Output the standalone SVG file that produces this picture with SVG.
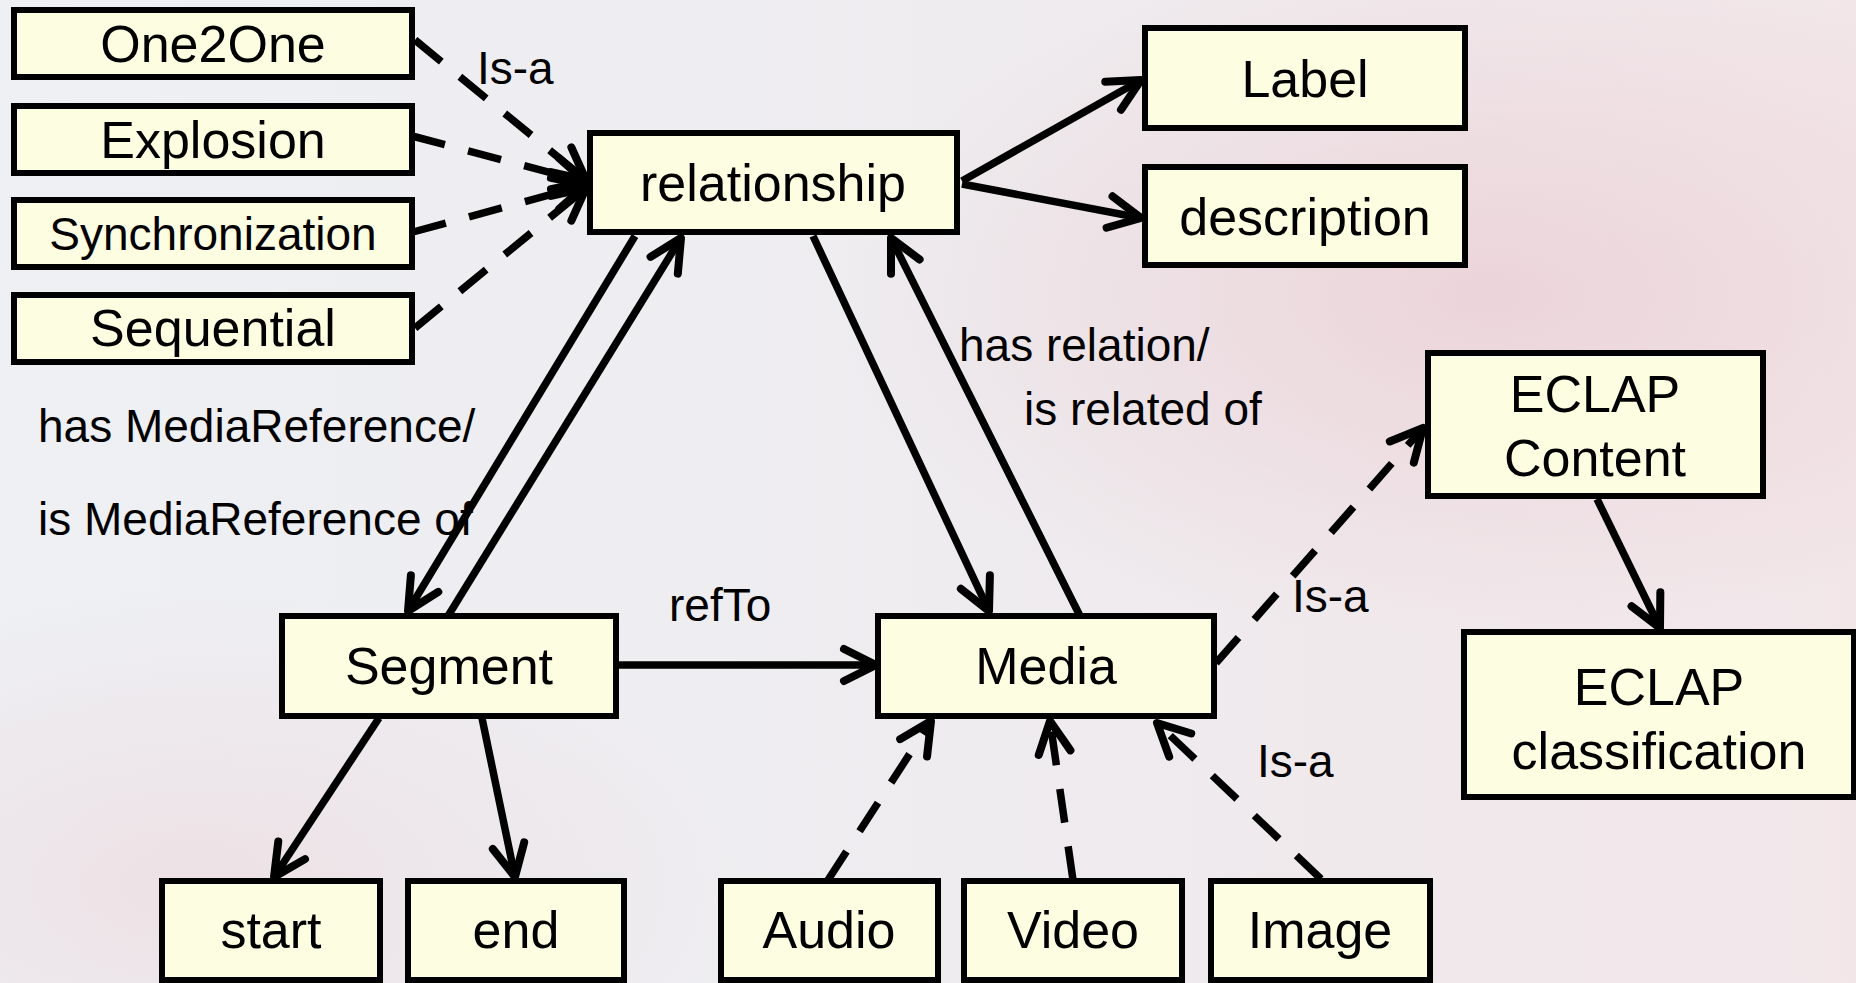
<svg xmlns="http://www.w3.org/2000/svg" width="1856" height="983" viewBox="0 0 1856 983">
<defs>
<linearGradient id="bg" x1="0" y1="0" x2="1" y2="0">
<stop offset="0" stop-color="#eef0f4"/>
<stop offset="0.5" stop-color="#eeecef"/>
<stop offset="1" stop-color="#f2e6e9"/>
</linearGradient>
<radialGradient id="blob1" cx="0.8" cy="0.3" r="0.35">
<stop offset="0" stop-color="#e9ccd2" stop-opacity="0.7"/>
<stop offset="1" stop-color="#e9ccd2" stop-opacity="0"/>
</radialGradient>
<radialGradient id="blob2" cx="0.1" cy="0.9" r="0.3">
<stop offset="0" stop-color="#ecd8dc" stop-opacity="0.6"/>
<stop offset="1" stop-color="#ecd8dc" stop-opacity="0"/>
</radialGradient>
<marker id="arr" markerUnits="userSpaceOnUse" markerWidth="40" markerHeight="40" refX="33" refY="19" orient="auto" overflow="visible">
<path d="M1,3 L33,19 L1,35" fill="none" stroke="#000" stroke-width="8" stroke-linecap="round" stroke-linejoin="round"/>
</marker>
<style>
.box{fill:#fdfde1;stroke:#000;stroke-width:6}
.t{font-family:"Liberation Sans",Arial,sans-serif;font-size:52px;fill:#000;text-anchor:middle}
.lbl{font-family:"Liberation Sans",Arial,sans-serif;font-size:46px;fill:#000}
.c{fill:none;stroke:#000;stroke-width:7.5;marker-end:url(#arr)}
.d{stroke-dasharray:34 24}
</style>
</defs>
<rect width="1856" height="983" fill="url(#bg)"/>
<rect width="1856" height="983" fill="url(#blob1)"/>
<rect width="1856" height="983" fill="url(#blob2)"/>

<g id="connectors">
<line class="c d" x1="415" y1="40" x2="586" y2="180"/>
<line class="c d" x1="412" y1="136" x2="586" y2="182"/>
<line class="c d" x1="413" y1="232" x2="586" y2="185"/>
<line class="c d" x1="415" y1="328" x2="586" y2="188"/>
<line class="c" x1="962" y1="181" x2="1141" y2="80"/>
<line class="c" x1="962" y1="184" x2="1141" y2="218"/>
<line class="c" x1="635" y1="236" x2="408" y2="611"/>
<line class="c" x1="448" y1="616" x2="681" y2="238"/>
<line class="c" x1="813" y1="236" x2="989" y2="611"/>
<line class="c" x1="1080" y1="616" x2="891" y2="238"/>
<line class="c" x1="619" y1="665" x2="876" y2="665"/>
<line class="c d" x1="1216" y1="663" x2="1423" y2="428"/>
<line class="c" x1="1597" y1="499" x2="1660" y2="628"/>
<line class="c" x1="379" y1="718" x2="274" y2="877"/>
<line class="c" x1="482" y1="718" x2="515" y2="877"/>
<line class="c d" x1="828" y1="880" x2="931" y2="721"/>
<line class="c d" x1="1073" y1="880" x2="1050" y2="721"/>
<line class="c d" x1="1321" y1="879" x2="1157" y2="723"/>
<text class="lbl" x="477" y="84">Is-a</text>
<text class="lbl" x="959" y="361">has relation/</text>
<text class="lbl" x="1024" y="425">is related of</text>
<text class="lbl" x="38" y="442">has MediaReference/</text>
<text class="lbl" x="38" y="535">is MediaReference of</text>
<text class="lbl" x="669" y="621">refTo</text>
<text class="lbl" x="1292" y="612">Is-a</text>
<text class="lbl" x="1257" y="777">Is-a</text>
</g>

<g id="one2one"><rect class="box" x="14" y="10" width="398" height="67"/><text class="t" x="213" y="62">One2One</text></g>
<g id="explosion"><rect class="box" x="14" y="106" width="398" height="67"/><text class="t" x="213" y="158">Explosion</text></g>
<g id="synchronization"><rect class="box" x="14" y="200" width="398" height="67"/><text class="t" x="213" y="250" style="font-size:46px">Synchronization</text></g>
<g id="sequential"><rect class="box" x="14" y="295" width="398" height="67"/><text class="t" x="213" y="346">Sequential</text></g>
<g id="relationship"><rect class="box" x="590" y="133" width="367" height="99"/><text class="t" x="773" y="201">relationship</text></g>
<g id="label"><rect class="box" x="1145" y="28" width="320" height="100"/><text class="t" x="1305" y="97">Label</text></g>
<g id="description"><rect class="box" x="1145" y="167" width="320" height="98"/><text class="t" x="1305" y="235">description</text></g>
<g id="eclap-content"><rect class="box" x="1428" y="353" width="335" height="143"/><text class="t" x="1595" y="412">ECLAP</text><text class="t" x="1595" y="476">Content</text></g>
<g id="eclap-classification"><rect class="box" x="1464" y="632" width="390" height="165"/><text class="t" x="1659" y="705">ECLAP</text><text class="t" x="1659" y="769">classification</text></g>
<g id="segment"><rect class="box" x="282" y="616" width="334" height="100"/><text class="t" x="449" y="684">Segment</text></g>
<g id="media"><rect class="box" x="878" y="616" width="336" height="100"/><text class="t" x="1046" y="684">Media</text></g>
<g id="start"><rect class="box" x="162" y="881" width="218" height="99"/><text class="t" x="271" y="948">start</text></g>
<g id="end"><rect class="box" x="408" y="881" width="216" height="99"/><text class="t" x="516" y="948">end</text></g>
<g id="audio"><rect class="box" x="721" y="881" width="217" height="99"/><text class="t" x="829" y="948">Audio</text></g>
<g id="video"><rect class="box" x="964" y="881" width="218" height="99"/><text class="t" x="1073" y="948">Video</text></g>
<g id="image"><rect class="box" x="1211" y="881" width="219" height="99"/><text class="t" x="1320" y="948">Image</text></g>
</svg>
